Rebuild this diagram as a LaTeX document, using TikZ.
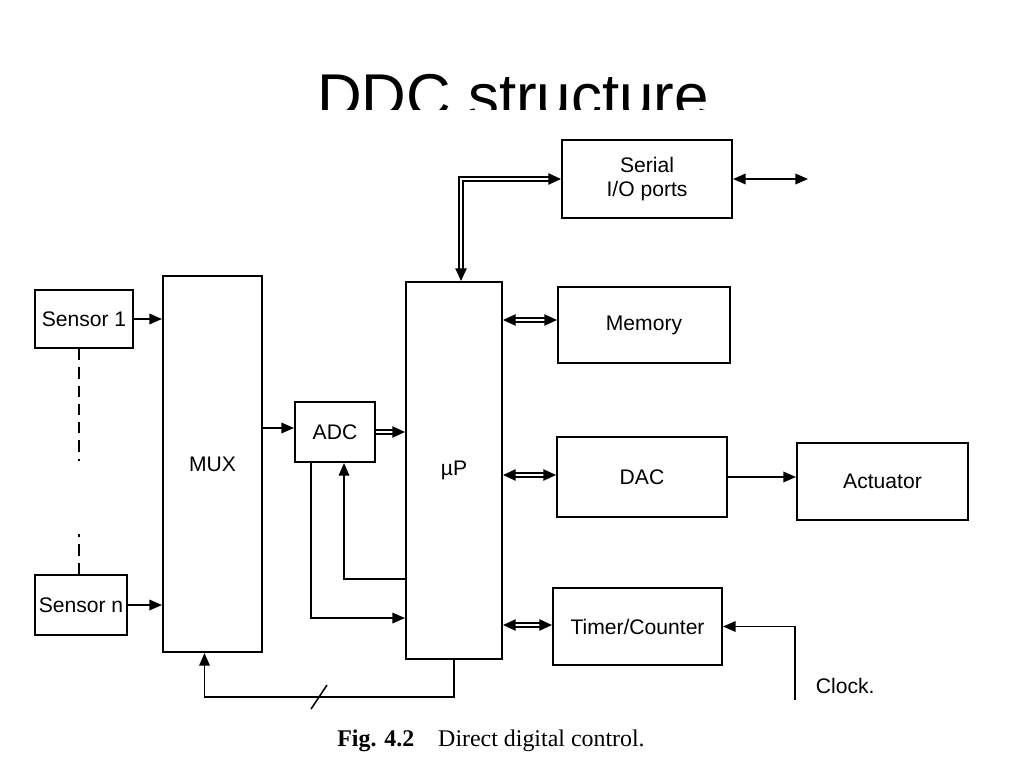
\documentclass[tikz,border=0pt]{standalone}
\usepackage{fontspec}
\setmainfont{Liberation Sans}
\newfontfamily\capfont{Liberation Serif}
\usetikzlibrary{arrows.meta, positioning, calc}

\tikzset{
    blk/.style={draw, line width=1.4pt, inner sep=0pt, align=center,
        font=\fontsize{15}{17}\selectfont},
    sig/.style={line width=1.2pt, -{Triangle[length=9pt, width=7.5pt]}},
    bus/.style={double, double distance=1.8pt, line width=1.1pt,
        {Triangle[length=9pt, width=8pt]}-{Triangle[length=9pt, width=8pt]}},
    busin/.style={double, double distance=1.8pt, line width=1.1pt,
        -{Triangle[length=9pt, width=8pt]}}
}

\begin{document}
\begin{tikzpicture}[x=0.025cm, y=-0.025cm]
    \useasboundingbox (0,0) rectangle (1024,768);

    % title, cut off at the bottom
    \begin{scope}
        \clip (0,0) rectangle (1024,110);
        \node[anchor=base, font=\fontsize{44}{48}\selectfont] (title) at (513,118) {DDC structure};
    \end{scope}

    % blocks
    \node[blk, minimum width=2.45cm, minimum height=1.45cm] (s1) at (84,319) {Sensor 1};
    \node[blk, minimum width=2.3cm, minimum height=1.5cm] (sn) at (81,605) {Sensor n};
    \node[blk, minimum width=2.475cm, minimum height=9.4cm] (mux) at (212.5,464) {MUX};
    \node[blk, minimum width=2cm, minimum height=1.5cm] (adc) at (335,432) {ADC};
    \node[blk, minimum width=2.4cm, minimum height=9.425cm] (up) at (454,470.5) {µP};
    \node[blk, minimum width=4.25cm, minimum height=1.95cm] (io) at (647,179) {Serial\\I/O ports};
    \node[blk, minimum width=4.3cm, minimum height=1.9cm] (mem) at (644,325) {Memory};
    \node[blk, minimum width=4.25cm, minimum height=2cm] (dac) at (642,477) {DAC};
    \node[blk, minimum width=4.275cm, minimum height=1.925cm] (act) at (882.5,481.5) {Actuator};
    \node[blk, minimum width=4.225cm, minimum height=1.925cm] (tc) at (637.5,626.5) {Timer/Counter};

    % free ends
    \coordinate (ioout) at (808,179);
    \coordinate (clk) at (795,700);
    \node[anchor=west, font=\fontsize{15}{17}\selectfont] (clklbl) at (811,686) {Clock.};

    % sensors into the MUX
    \draw[sig] (s1.east) -- (s1.east -| mux.west);
    \draw[sig] (sn.east) -- (sn.east -| mux.west);
    \draw[line width=1.1pt, dash pattern=on 8pt off 5pt] ($(s1.south west)+(45,0)$) -- ++(0,112);
    \draw[line width=1.1pt, dash pattern=on 8pt off 5pt] ($(sn.north west)+(45,0)$) -- ++(0,-40);

    % MUX -> ADC -> uP
    \draw[sig] ($(adc.west -| mux.east)+(0,-4)$) -- ($(adc.west)+(0,-4)$);
    \draw[busin] (adc.east) -- (adc.east -| up.west);
    \draw[sig] ($(adc.south west)+(17,0)$) |- ($(up.south west)+(0,-42)$);
    \draw[sig] ($(up.south west)+(0,-81)$) -| ($(adc.south west)+(50,0)$);

    % uP to the other blocks
    \draw[bus] (io.west) -| ($(up.north)+(7,0)$);
    \draw[line width=1.2pt, {Triangle[length=9pt, width=7.5pt]}-{Triangle[length=9pt, width=7.5pt]}] (io.east) -- (ioout);
    \foreach \b/\dy in {mem/-5, dac/-2, tc/-1.5}
        \draw[bus] ($(\b.west -| up.east)+(0,\dy)$) -- ($(\b.west)+(0,\dy)$);
    \draw[sig] (dac.east) -- (dac.east -| act.west);
    \draw[sig] (clk) |- (tc.east);

    % select lines back to the MUX
    \draw[sig] (up.south) -- ++(0,37) -| ($(mux.south)+(-8,0)$);
    \draw[line width=1.1pt] ($(up.south)+(-135,37)$) ++(-8,12) -- ++(16,-24);

    % caption
    \node[font=\capfont\fontsize{17}{20}\selectfont] (cap) at (491,741) {\textbf{Fig. 4.2}\quad Direct digital control.};
\end{tikzpicture}
\end{document}
